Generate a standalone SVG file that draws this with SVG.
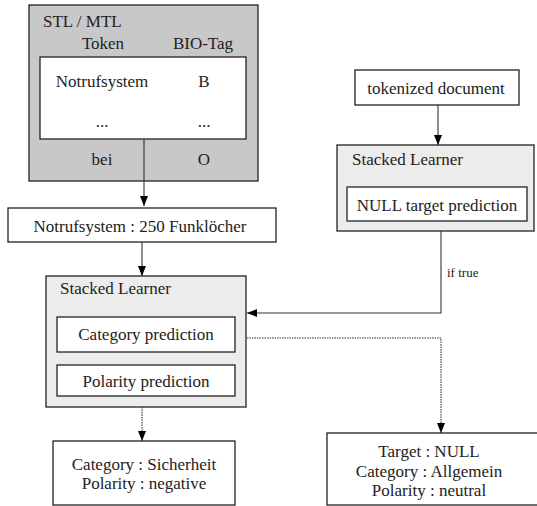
<svg xmlns="http://www.w3.org/2000/svg" width="537" height="506" viewBox="0 0 537 506">
<defs>
<style>
text{font-family:"Liberation Serif","Times New Roman",serif;font-size:17px;fill:#222}
.box{fill:#fff;stroke:#222;stroke-width:1.3}
.dark{fill:#c8c8c8;stroke:#222;stroke-width:1.3}
.light{fill:#ececec;stroke:#222;stroke-width:1.3}
.c{stroke:#333;stroke-width:1.1;fill:none}
.d{stroke:#333;stroke-width:1.1;fill:none;stroke-dasharray:1.5 1}
.m{text-anchor:middle}
.small{font-size:13px}
</style>
<marker id="arr" markerWidth="10" markerHeight="10" viewBox="0 0 10 10" refX="10" refY="5" orient="auto" markerUnits="userSpaceOnUse">
<path d="M0,1 L10,5 L0,9 Z" fill="#000"/>
</marker>
</defs>
<g id="stl">
<rect class="dark" x="29" y="5" width="229" height="176"/>
<text x="43" y="27">STL / MTL</text>
<text class="m" x="103" y="49">Token</text>
<text class="m" x="203" y="49">BIO-Tag</text>
<rect class="box" x="40" y="57" width="206" height="82"/>
<text class="m" x="102" y="87">Notrufsystem</text>
<text class="m" x="204" y="87">B</text>
<text class="m" x="102" y="127">...</text>
<text class="m" x="204" y="127">...</text>
<text class="m" x="102" y="165">bei</text>
<text class="m" x="204" y="165">O</text>
</g>
<g id="notruf">
<rect class="box" x="8" y="208" width="268" height="34"/>
<text class="m" x="140" y="232">Notrufsystem : 250 Funklöcher</text>
</g>
<g id="sl-left">
<rect class="light" x="46" y="276" width="200" height="131"/>
<text x="60" y="294">Stacked Learner</text>
<rect class="box" x="57" y="317" width="178" height="35"/>
<text class="m" x="146" y="340">Category prediction</text>
<rect class="box" x="57" y="365" width="178" height="31"/>
<text class="m" x="146" y="387">Polarity prediction</text>
</g>
<g id="result-left">
<rect class="box" x="53" y="441" width="182" height="64"/>
<text class="m" x="144" y="470">Category : Sicherheit</text>
<text class="m" x="144" y="489">Polarity : negative</text>
</g>
<g id="tokdoc">
<rect class="box" x="355" y="70" width="164" height="35"/>
<text class="m" x="436" y="94">tokenized document</text>
</g>
<g id="sl-right">
<rect class="light" x="337" y="145" width="197" height="86"/>
<text x="352" y="165">Stacked Learner</text>
<rect class="box" x="347" y="187" width="180" height="34"/>
<text class="m" x="437" y="211">NULL target prediction</text>
</g>
<g id="result-right">
<rect class="box" x="327" y="433" width="215" height="72"/>
<text class="m" x="429" y="457">Target : NULL</text>
<text class="m" x="429" y="477">Category : Allgemein</text>
<text class="m" x="429" y="496">Polarity : neutral</text>
</g>
<g id="connectors">
<path class="c" d="M144,139 V206" marker-end="url(#arr)"/>
<path class="c" d="M142,242 V276" marker-end="url(#arr)"/>
<path class="d" d="M142,407 V441" marker-end="url(#arr)"/>
<path class="c" d="M438,105 V145" marker-end="url(#arr)"/>
<path class="c" d="M441,231 V313 H247" marker-end="url(#arr)"/>
<text class="small" x="447" y="277">if true</text>
<path class="d" d="M247,338 H441 V433" marker-end="url(#arr)"/>
</g>
</svg>
